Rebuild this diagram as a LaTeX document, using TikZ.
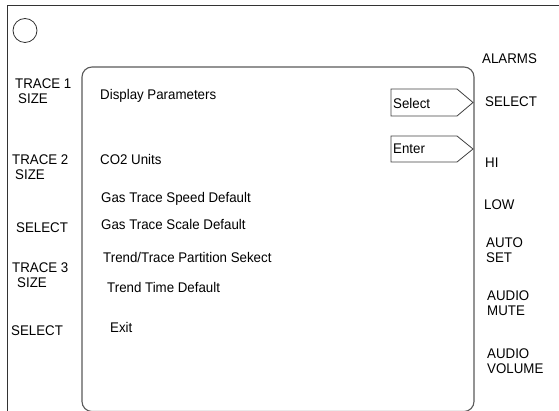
\documentclass[tikz,border=0pt]{standalone}
\usepackage{fontspec}
\setmainfont[FakeStretch=0.95]{Liberation Sans}
\begin{document}
\begin{tikzpicture}[x=1pt,y=-1pt,
  lbl/.style={anchor=base west,inner sep=0pt,font=\fontsize{14}{16}\selectfont},
  frameline/.style={draw=black!80,line width=0.9pt},
  panel/.style={draw=black!65,line width=1.1pt,rounded corners=10pt},
  softkey/.style={draw=black!75,line width=0.8pt}]
\useasboundingbox (0,0) rectangle (559,411);

% outer bezel edges and indicator lamp
\draw[frameline] (559,5) -- (7,5) -- (7,411);
\node[draw=black!80,line width=0.8pt,circle,minimum size=24pt,inner sep=0pt] (lamp) at (25,30.5) {};

% screen panel
\draw[panel] (82,67) rectangle (474,411.5);

% on-screen soft keys pointing at the right-hand buttons
\draw[softkey] (391,89) -- (457,89) -- (473,102.5) -- (457,116) -- (391,116) -- cycle;
\node[lbl] (kSelect) at (393,109) {Select};
\draw[softkey] (391,136) -- (457,136) -- (473,149) -- (457,162) -- (391,162) -- cycle;
\node[lbl] (kEnter) at (393,154) {Enter};

% menu entries
\node[lbl] (mTitle) at (100,100) {Display Parameters};
\node[lbl] (mCO2) at (100,165) {CO2 Units};
\node[lbl] (mSpeed) at (101,203) {Gas Trace Speed Default};
\node[lbl] (mScale) at (101,230) {Gas Trace Scale Default};
\node[lbl] (mPart) at (103,263) {Trend/Trace Partition Sekect};
\node[lbl] (mTime) at (107,293) {Trend Time Default};
\node[lbl] (mExit) at (110,332) {Exit};

% left button labels
\node[lbl] (l1a) at (15,89) {TRACE 1};
\node[lbl] (l1b) at (18,104) {SIZE};
\node[lbl] (l2a) at (12,165) {TRACE 2};
\node[lbl] (l2b) at (15,180) {SIZE};
\node[lbl] (l3) at (16,233) {SELECT};
\node[lbl] (l4a) at (12,273) {TRACE 3};
\node[lbl] (l4b) at (17,288) {SIZE};
\node[lbl] (l5) at (11,335) {SELECT};

% right button labels
\node[lbl] (r0) at (482,64) {ALARMS};
\node[lbl] (r1) at (485,107) {SELECT};
\node[lbl] (r2) at (485,168) {HI};
\node[lbl] (r3) at (484,210) {LOW};
\node[lbl] (r4a) at (486,248) {AUTO};
\node[lbl] (r4b) at (486,263) {SET};
\node[lbl] (r5a) at (487,301) {AUDIO};
\node[lbl] (r5b) at (487,316) {MUTE};
\node[lbl] (r6a) at (487,358) {AUDIO};
\node[lbl] (r6b) at (487,373) {VOLUME};
\end{tikzpicture}
\end{document}
